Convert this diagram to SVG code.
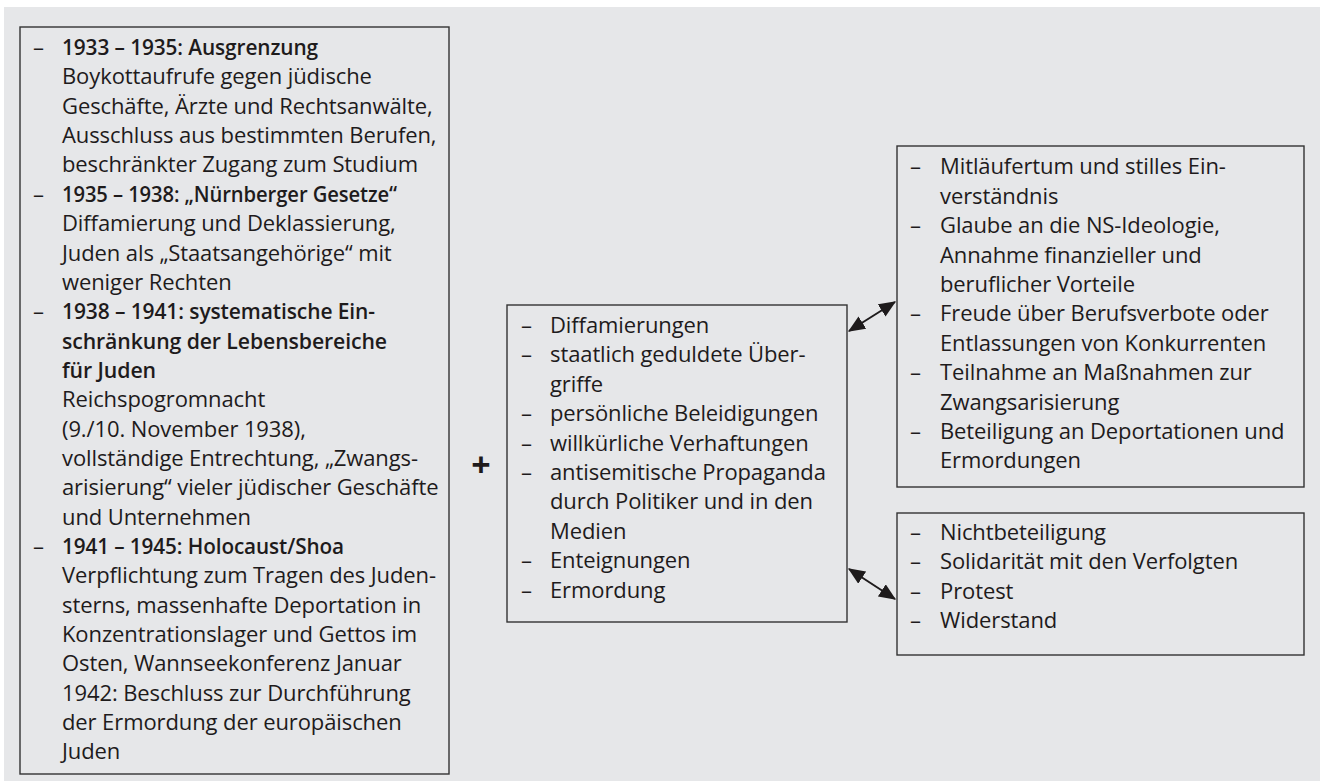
<svg xmlns="http://www.w3.org/2000/svg" width="1320" height="781" viewBox="0 0 1320 781">
<style>
.box{fill:none;stroke:#333;stroke-width:1.4}
text{font-family:"Open Sans","Noto Sans","Liberation Sans",sans-serif;font-size:22px;fill:#1e1b1c;letter-spacing:-0.1px}
.b{font-weight:600}
.conn{stroke:#1e1b1c;stroke-width:2;fill:none;marker-start:url(#ah);marker-end:url(#ah)}
</style>
<defs>
<marker id="ah" viewBox="0 0 14 12" refX="13" refY="6" markerWidth="8.5" markerHeight="7.3" orient="auto-start-reverse" markerUnits="strokeWidth">
<path d="M0,0 L14,6 L0,12 z" fill="#1e1b1c"/>
</marker>
</defs>
<rect width="1320" height="781" fill="#fff"/>
<rect x="4" y="7" width="1316" height="774" fill="#e6e7e9"/>

<g id="phasen">
<rect class="box" x="20" y="27" width="429" height="747"/>
<g>
<text x="33" y="55">–</text><text x="62" y="55" class="b" textLength="256" lengthAdjust="spacingAndGlyphs">1933 – 1935: Ausgrenzung</text>
<text x="62" y="84.4">Boykottaufrufe gegen jüdische</text>
<text x="62" y="113.7">Geschäfte, Ärzte und Rechtsanwälte,</text>
<text x="62" y="143.1">Ausschluss aus bestimmten Berufen,</text>
<text x="62" y="172.4">beschränkter Zugang zum Studium</text>
<text x="33" y="201.8">–</text><text x="62" y="201.8" class="b" textLength="335" lengthAdjust="spacingAndGlyphs">1935 – 1938: „Nürnberger Gesetze“</text>
<text x="62" y="231.1">Diffamierung und Deklassierung,</text>
<text x="62" y="260.5">Juden als „Staatsangehörige“ mit</text>
<text x="62" y="289.8">weniger Rechten</text>
<text x="33" y="319.2">–</text><text x="62" y="319.2" class="b" textLength="313" lengthAdjust="spacingAndGlyphs">1938 – 1941: systematische Ein-</text>
<text x="62" y="348.5" class="b" textLength="325" lengthAdjust="spacingAndGlyphs">schränkung der Lebensbereiche</text>
<text x="62" y="377.9" class="b" textLength="94" lengthAdjust="spacingAndGlyphs">für Juden</text>
<text x="62" y="407.2">Reichspogromnacht</text>
<text x="62" y="436.6">(9./10. November 1938),</text>
<text x="62" y="465.9">vollständige Entrechtung, „Zwangs-</text>
<text x="62" y="495.3">arisierung“ vieler jüdischer Geschäfte</text>
<text x="62" y="524.6">und Unternehmen</text>
<text x="33" y="554">–</text><text x="62" y="554" class="b" textLength="282" lengthAdjust="spacingAndGlyphs">1941 – 1945: Holocaust/Shoa</text>
<text x="62" y="583.3">Verpflichtung zum Tragen des Juden-</text>
<text x="62" y="612.7">sterns, massenhafte Deportation in</text>
<text x="62" y="642">Konzentrationslager und Gettos im</text>
<text x="62" y="671.4">Osten, Wannseekonferenz Januar</text>
<text x="62" y="700.7">1942: Beschluss zur Durchführung</text>
<text x="62" y="730.1">der Ermordung der europäischen</text>
<text x="62" y="759.4">Juden</text>
</g>
</g>

<g id="plus">
<text x="481" y="477" class="b" text-anchor="middle" style="font-size:34px;font-weight:700">+</text>
</g>

<g id="massnahmen">
<rect class="box" x="507" y="305" width="340" height="317"/>
<text x="521" y="333">–</text><text x="550" y="333">Diffamierungen</text>
<text x="521" y="362.4">–</text><text x="550" y="362.4">staatlich geduldete Über-</text>
<text x="550" y="391.8">griffe</text>
<text x="521" y="421.2">–</text><text x="550" y="421.2">persönliche Beleidigungen</text>
<text x="521" y="450.6">–</text><text x="550" y="450.6">willkürliche Verhaftungen</text>
<text x="521" y="480">–</text><text x="550" y="480">antisemitische Propaganda</text>
<text x="550" y="509.4">durch Politiker und in den</text>
<text x="550" y="538.8">Medien</text>
<text x="521" y="568.2">–</text><text x="550" y="568.2">Enteignungen</text>
<text x="521" y="597.6">–</text><text x="550" y="597.6">Ermordung</text>
</g>

<g id="mitlaeufer">
<rect class="box" x="897" y="146" width="407" height="341"/>
<text x="910" y="174.3">–</text><text x="940" y="174.3">Mitläufertum und stilles Ein-</text>
<text x="940" y="203.7">verständnis</text>
<text x="910" y="233.1">–</text><text x="940" y="233.1">Glaube an die NS-Ideologie,</text>
<text x="940" y="262.5">Annahme finanzieller und</text>
<text x="940" y="291.9">beruflicher Vorteile</text>
<text x="910" y="321.3">–</text><text x="940" y="321.3">Freude über Berufsverbote oder</text>
<text x="940" y="350.7">Entlassungen von Konkurrenten</text>
<text x="910" y="380.1">–</text><text x="940" y="380.1">Teilnahme an Maßnahmen zur</text>
<text x="940" y="409.5">Zwangsarisierung</text>
<text x="910" y="438.9">–</text><text x="940" y="438.9">Beteiligung an Deportationen und</text>
<text x="940" y="468.3">Ermordungen</text>
</g>

<g id="widerstand">
<rect class="box" x="897" y="513" width="407" height="142"/>
<text x="910" y="540">–</text><text x="940" y="540">Nichtbeteiligung</text>
<text x="910" y="569.4">–</text><text x="940" y="569.4">Solidarität mit den Verfolgten</text>
<text x="910" y="598.8">–</text><text x="940" y="598.8">Protest</text>
<text x="910" y="628.2">–</text><text x="940" y="628.2">Widerstand</text>
</g>

<g id="connectors">
<line class="conn" x1="849" y1="331" x2="895" y2="302"/>
<line class="conn" x1="849" y1="569" x2="895" y2="599"/>
</g>
</svg>
